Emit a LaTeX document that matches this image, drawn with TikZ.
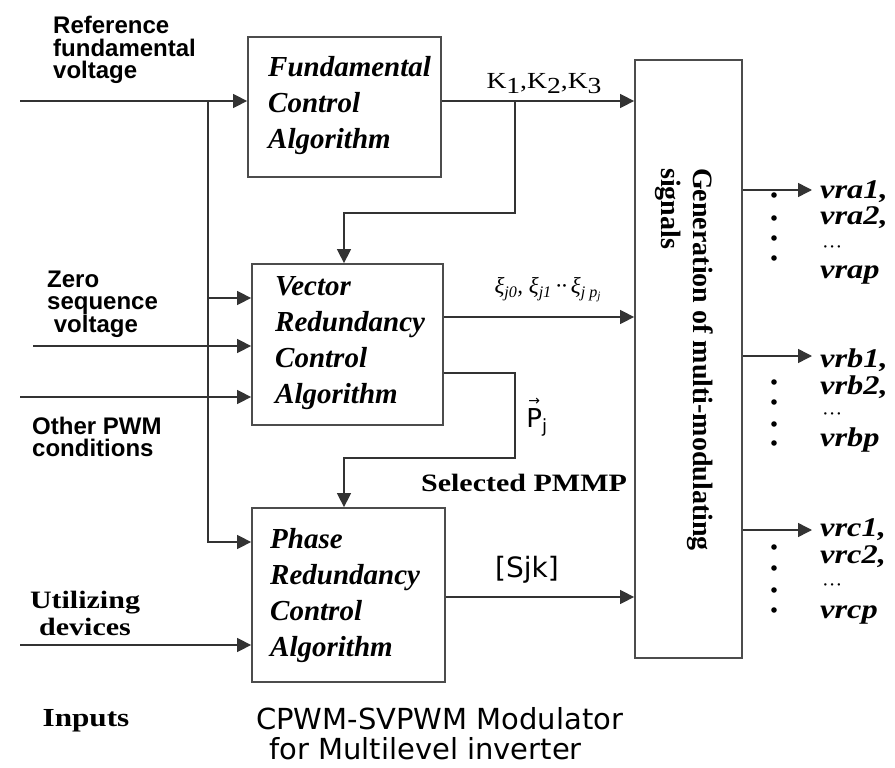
\documentclass[tikz,border=0pt]{standalone}
\usepackage{fontspec}
\setmainfont{Liberation Serif}
\newfontfamily\wserif[FakeStretch=1.2]{Liberation Serif}
\newfontfamily\lsans{Liberation Sans}
\newfontfamily\dvsans{DejaVu Sans}
\usetikzlibrary{arrows.meta,calc}
\tikzset{
  ln/.style={draw=black!80, line width=1.5pt},
  arr/.style={ln, -{Triangle[length=14pt,width=14pt]}},
  blk/.style={draw=black!70, line width=1.8pt, inner sep=0pt},
  btxt/.style={font=\fontsize{29}{36}\selectfont\bfseries\itshape, align=left, inner sep=0pt, anchor=west},
  insans/.style={font=\lsans\fontsize{24}{22.5}\selectfont\bfseries, align=left, inner sep=0pt, anchor=west},
  wlab/.style={font=\wserif\fontsize{25}{27}\selectfont\bfseries, inner sep=0pt},
  outlab/.style={font=\wserif\fontsize{27}{27}\selectfont\bfseries\itshape, inner sep=0pt, anchor=west},
  dotmark/.style={fill=black}
}
\begin{document}
\begin{tikzpicture}[x=1pt,y=-1pt]
\useasboundingbox (0,0) rectangle (895,768);
\fill[white] (0,0) rectangle (895,768);

% blocks
\node[blk, minimum width=193pt, minimum height=140pt] (fund) at (344.5,107) {};
\node[blk, minimum width=191pt, minimum height=161pt] (vec) at (347.5,344.5) {};
\node[blk, minimum width=193pt, minimum height=174pt] (phase) at (348.5,595) {};
\node[blk, minimum width=107pt, minimum height=598pt] (gen) at (688.5,359) {};

\node[btxt] (ftxt) at (268,106) {Fundamental\\Control\\Algorithm};
\node[btxt] (vtxt) at (275,343.5) {Vector\\Redundancy\\Control\\Algorithm};
\node[btxt] (ptxt) at (270,596) {Phase\\Redundancy\\Control\\Algorithm};
\node[font=\fontsize{28}{32}\selectfont\bfseries, align=left, inner sep=0pt, rotate=-90, anchor=west] (gtxt) at (684,168) {Generation of multi-modulating\\signals};

% input labels
\node[insans] (lref) at (53,50) {Reference\\fundamental\\voltage};
\node[insans] (lzero) at (47,304) {Zero\\sequence\\\ voltage};
\node[insans] (loth) at (32,437) {Other PWM\\conditions};
\node[wlab, align=center] (lutil) at (85,613) {Utilizing\\devices};
\node[wlab, font=\wserif\fontsize{26}{28}\selectfont\bfseries] (linputs) at (86,721) {Inputs};
\node[font=\dvsans\fontsize{29}{32}\selectfont, inner sep=0pt, anchor=west] (lt1) at (256,719) {CPWM-SVPWM Modulator};
\node[font=\dvsans\fontsize{29}{32}\selectfont, inner sep=0pt, anchor=west] (lt2) at (269,749) {for Multilevel inverter};

% coordinates
\coordinate (refin) at (20,101);
\coordinate (br) at (208,101);
\coordinate (yv1) at (0,298);
\coordinate (zsin) at (33,346);
\coordinate (oin) at (20,397);
\coordinate (yph) at (0,542);
\coordinate (utin) at (20,645);
\coordinate (kb) at (515,101);
\coordinate (kl) at (344,213);
\coordinate (yv2) at (0,317);
\coordinate (pb) at (515,373);
\coordinate (pl) at (344,458);
\coordinate (yp) at (0,597);

% input connectors
\draw[arr] (refin) -- (refin -| fund.west);
\draw[arr] (br) |- (phase.west |- yph);
\draw[arr] (br |- yv1) -- (vec.west |- yv1);
\draw[arr] (zsin) -- (vec.west |- zsin);
\draw[arr] (oin) -- (vec.west |- oin);
\draw[arr] (utin) -- (phase.west |- utin);

% internal connectors
\draw[arr] (fund.east |- refin) -- (gen.west |- refin);
\draw[arr] (kb) |- (kl) -- (kl |- vec.north);
\draw[arr] (vec.east |- yv2) -- (gen.west |- yv2);
\draw[arr] (vec.east |- pb) -- (pb) |- (pl) -- (pl |- phase.north);
\draw[arr] (phase.east |- yp) -- (gen.west |- yp);

% connector labels
\node[inner sep=0pt, font=\wserif\fontsize{23}{26}\selectfont] (lk) at (544,84) {K\raisebox{-0.22em}{1},K\raisebox{-0.22em}{2},K\raisebox{-0.22em}{3}};
\node[inner sep=0pt, font=\fontsize{23}{25}\selectfont\itshape] (lxi) at (548,290) {ξ\textsubscript{j0}, ξ\textsubscript{j1}\,··\,ξ\textsubscript{j p\textsubscript{j}}};
\node[inner sep=0pt, font=\dvsans\fontsize{26}{28}\selectfont] (lp) at (537,417) {\shortstack{{\fontsize{14}{8}\selectfont →}\\P}\textsubscript{j}};
\node[wlab] (lsel) at (524,483) {Selected PMMP};
\node[inner sep=0pt, font=\dvsans\fontsize{28}{30}\selectfont] (lsjk) at (527,570) {[Sjk]};

% outputs
\foreach \y/\n in {190/a,356/b,530/c}{
  \coordinate (o\n) at (812,\y);
  \draw[arr] (gen.east |- o\n) -- (o\n);
}
\foreach \y in {195,218,238,258, 382,402,424,443, 547,568,590,610}{
  \fill[dotmark] (774,\y) circle (2.8pt);
}
\foreach \n/\a/\b/\c/\d in {a/192/218/250/275, b/360/387/417/440, c/530/557/588/615}{
  \node[outlab] (l\n1) at (820,\a) {vr\n1,};
  \node[outlab] (l\n2) at (820,\b) {vr\n2,};
  \node[outlab, font=\fontsize{20}{20}\selectfont] (l\n3) at (822,\c) {···};
  \node[outlab] (l\n4) at (820,\d) {vr\n p};
}
\end{tikzpicture}
\end{document}
